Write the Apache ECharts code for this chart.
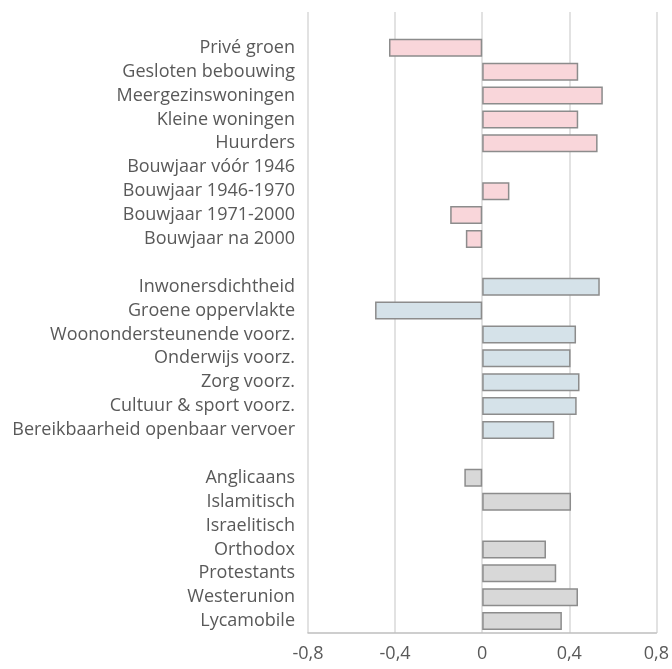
<!DOCTYPE html>
<html>
<head>
<meta charset="utf-8">
<script src="https://cdn.jsdelivr.net/npm/echarts@6/dist/echarts.min.js"></script>
<style>
  html, body { margin: 0; padding: 0; background: #fff; }
  #chart { width: 672px; height: 669px; }
</style>
</head>
<body>
<div id="chart"></div>
<script>
// rows from top to bottom, blank strings are spacer rows
const categories = [
  ' ',
  'Privé groen', 'Gesloten bebouwing', 'Meergezinswoningen', 'Kleine woningen', 'Huurders',
  'Bouwjaar vóór 1946', 'Bouwjaar 1946-1970', 'Bouwjaar 1971-2000', 'Bouwjaar na 2000',
  '  ',
  'Inwonersdichtheid', 'Groene oppervlakte', 'Woonondersteunende voorz.', 'Onderwijs voorz.',
  'Zorg voorz.', 'Cultuur & sport voorz.', 'Bereikbaarheid openbaar vervoer',
  '   ',
  'Anglicaans', 'Islamitisch', 'Israelitisch', 'Orthodox', 'Protestants', 'Westerunion', 'Lycamobile'
];
const values = [
  null,
  -0.428, 0.441, 0.554, 0.441, 0.530,
  null, 0.125, -0.147, -0.075,
  null,
  0.540, -0.492, 0.431, 0.406, 0.447, 0.434, 0.331,
  null,
  -0.082, 0.408, null, 0.293, 0.340, 0.440, 0.366
];
// group of each row: 0 = woning, 1 = omgeving, 2 = overig
const groups = [
  -1, 0, 0, 0, 0, 0, 0, 0, 0, 0,
  -1, 1, 1, 1, 1, 1, 1, 1,
  -1, 2, 2, 2, 2, 2, 2, 2
];
const groupColors = ['#f9d6da', '#d5e2e9', '#d8d8d8'];
const xTicks = [-0.8, -0.4, 0, 0.4, 0.8];

const chart = echarts.init(document.getElementById('chart'));

const barData = values.map((v, i) => ({
  value: v,
  itemStyle: { color: groups[i] >= 0 ? groupColors[groups[i]] : '#fff' }
}));

chart.setOption({
  animation: false,
  grid: { left: 308, right: 15, top: 12, bottom: 36 },
  xAxis: {
    type: 'value',
    min: xTicks[0],
    max: xTicks[xTicks.length - 1],
    interval: 0.4,
    axisLine: { show: true, onZero: false, lineStyle: { color: '#bfbfbf', width: 1.5 } },
    axisTick: { show: false },
    splitLine: { show: true, lineStyle: { color: '#d9d9d9', width: 1.5 } },
    axisLabel: {
      color: '#595959',
      fontFamily: 'Open Sans',
      fontSize: 18,
      margin: 12,
      formatter: (v) => {
        const r = Math.round(v * 10) / 10;
        return r === 0 ? '0' : r.toFixed(1).replace('.', ',');
      }
    }
  },
  yAxis: {
    type: 'category',
    data: categories,
    inverse: true,
    axisLine: { show: false },
    axisTick: { show: false },
    axisLabel: {
      color: '#595959',
      fontFamily: 'Open Sans',
      fontSize: 18,
      margin: 13,
      interval: 0
    }
  },
  series: [
    {
      type: 'bar',
      data: barData,
      barWidth: 18,
      itemStyle: { borderColor: '#8c8c8c', borderWidth: 1.5 }
    }
  ]
});
</script>
</body>
</html>
